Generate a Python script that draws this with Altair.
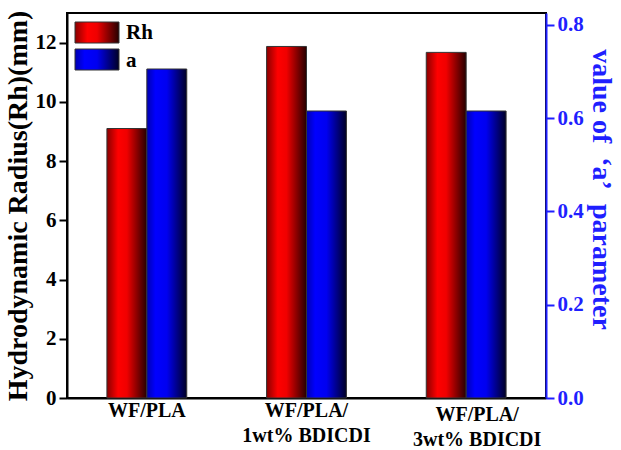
import altair as alt
import pandas as pd

groups = ["WF/PLA", "WF/PLA/|1wt% BDICDI", "WF/PLA/|3wt% BDICDI"]
rh_values = [9.1, 11.87, 11.67]
a_values = [0.705, 0.615, 0.615]
series = ["Rh", "a"]

df_rh = pd.DataFrame({"group": groups, "series": "Rh", "value": rh_values})
df_a = pd.DataFrame({"group": groups, "series": "a", "value": a_values})

FONT = "Liberation Serif"
BLUE = "#1f1fff"

red_grad = alt.Gradient(
    gradient="linear", x1=0, x2=1, y1=0, y2=0,
    stops=[
        alt.GradientStop(offset=0, color="#8a0000"),
        alt.GradientStop(offset=0.28, color="#ff0000"),
        alt.GradientStop(offset=0.5, color="#f00000"),
        alt.GradientStop(offset=1, color="#250000"),
    ],
)
blue_grad = alt.Gradient(
    gradient="linear", x1=0, x2=1, y1=0, y2=0,
    stops=[
        alt.GradientStop(offset=0, color="#0000b0"),
        alt.GradientStop(offset=0.22, color="#0000ff"),
        alt.GradientStop(offset=0.5, color="#0000f0"),
        alt.GradientStop(offset=1, color="#000025"),
    ],
)

x_enc = alt.X(
    "group:N", sort=groups, title=None,
    scale=alt.Scale(paddingInner=0.5, paddingOuter=0.25),
    axis=alt.Axis(
        labelExpr="split(datum.label, '|')", labelAngle=0, ticks=False,
        labelFont=FONT, labelFontWeight="bold", labelFontSize=20, labelColor="black",
        labelLineHeight=25,
        labelPadding={"condition": {"test": "datum.value == 'WF/PLA/|3wt% BDICDI'", "value": 6}, "value": 2},
        labelOffset={"condition": {"test": "datum.value == 'WF/PLA/|3wt% BDICDI'", "value": 11}, "value": 0},
        domainColor="black", domainWidth=2,
    ),
)
xo_enc = alt.XOffset("series:N", sort=series, scale=alt.Scale(domain=series, paddingInner=0, paddingOuter=0))

rh_bars = alt.Chart(df_rh).mark_bar(fill=red_grad, stroke="#333333", strokeWidth=1).encode(
    x=x_enc,
    xOffset=xo_enc,
    y=alt.Y(
        "value:Q",
        scale=alt.Scale(domain=[0, 13], nice=False),
        axis=alt.Axis(
            title="Hydrodynamic Radius(Rh)(mm)", values=[0, 2, 4, 6, 8, 10, 12],
            titleFont=FONT, titleFontSize=28, titleFontWeight="bold", titleColor="black",
            labelFont=FONT, labelFontSize=21, labelFontWeight="bold", labelColor="black",
            domainColor="black", domainWidth=2, tickColor="black", tickWidth=2, tickSize=8,
            grid=False, titlePadding=3, labelPadding=3,
        ),
    ),
)

a_bars = alt.Chart(df_a).mark_bar(fill=blue_grad, stroke="#333333", strokeWidth=1).encode(
    x=x_enc,
    xOffset=xo_enc,
    y=alt.Y(
        "value:Q",
        scale=alt.Scale(domain=[0, 0.825], nice=False),
        axis=alt.Axis(
            title="value of\u2002\u2018a\u2019\u2002parameter", orient="right", values=[0, 0.2, 0.4, 0.6, 0.8],
            format=".1f",
            titleFont=FONT, titleFontSize=28, titleFontWeight="bold", titleColor=BLUE,
            titleY=176, titleAlign="center",
            labelFont=FONT, labelFontSize=21, labelFontWeight="bold", labelColor=BLUE,
            domainColor=BLUE, domainWidth=2, tickColor=BLUE, tickWidth=2, tickSize=8,
            grid=False, titlePadding=3, labelPadding=3,
        ),
    ),
)

legend_df = pd.DataFrame({"series": series})
leg_rh = alt.Chart(legend_df).transform_filter(alt.datum.series == "Rh").mark_rect(
    fill=red_grad, stroke="#333333", strokeWidth=1
).encode(x=alt.value(8), x2=alt.value(52), y=alt.value(9), y2=alt.value(30))
leg_a = alt.Chart(legend_df).transform_filter(alt.datum.series == "a").mark_rect(
    fill=blue_grad, stroke="#333333", strokeWidth=1
).encode(x=alt.value(8), x2=alt.value(52), y=alt.value(36), y2=alt.value(57))
leg_text_rh = alt.Chart(legend_df).transform_filter(alt.datum.series == "Rh").mark_text(
    font=FONT, fontSize=21, fontWeight="bold", align="left", baseline="alphabetic", color="black"
).encode(x=alt.value(59), y=alt.value(26), text="series:N")
leg_text_a = alt.Chart(legend_df).transform_filter(alt.datum.series == "a").mark_text(
    font=FONT, fontSize=21, fontWeight="bold", align="left", baseline="alphabetic", color="black"
).encode(x=alt.value(59), y=alt.value(54), text="series:N")

chart = (
    alt.layer(rh_bars, a_bars, leg_rh, leg_a, leg_text_rh, leg_text_a)
    .resolve_scale(y="independent")
    .properties(
        width=479, height=385,
        autosize=alt.AutoSizeParams(type="none"),
        padding={"left": 67, "top": 13, "right": 75, "bottom": 52},
        background="white",
    )
    .configure_view(stroke="black", strokeWidth=2)
)

chart.save("out.html", embed_options={"renderer": "svg", "actions": False})
